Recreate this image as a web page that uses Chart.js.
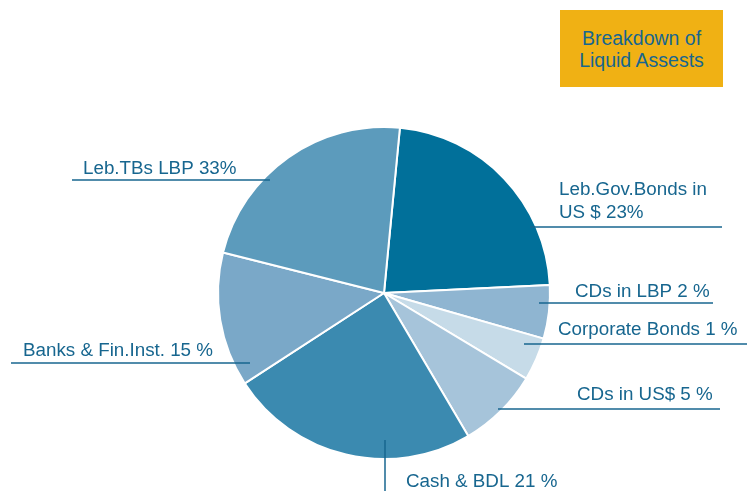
<!DOCTYPE html>
<html>
<head>
<meta charset="utf-8">
<script src="https://cdn.jsdelivr.net/npm/chart.js@4/dist/chart.umd.min.js"></script>
<style>
  html,body{margin:0;padding:0;background:#fff;}
  #wrap{position:relative;width:747px;height:491px;}
  #title{position:absolute;left:560px;top:10px;width:163px;height:77px;background:#f0b114;
    color:#17668f;font:19.5px "Liberation Sans",Arial,sans-serif;line-height:22px;
    display:flex;align-items:center;justify-content:center;text-align:center;}
</style>
</head>
<body>
<div id="wrap">
  <canvas id="c" width="747" height="491"></canvas>
  <div id="title">Breakdown of<br>Liquid Assests</div>
</div>
<script>
// slices clockwise from the top, shares
const categories=['Leb.Gov.Bonds in US $','CDs in LBP','Corporate Bonds','CDs in US$','Cash & BDL','Banks & Fin.Inst.','Leb.TBs LBP'];
const sliceShare=[22.7,5.2,4.2,7.9,24.3,13.1,22.6];
const printedPct=['23%','2 %','1 %','5 %','21 %','15 %','33%'];
const colors=['#01709a','#8fb5d1','#c6dbe8','#a6c4da','#3b8ab0','#7aa8c8','#5c9bbc'];

const INK='#17668f';
// label placement: text lines, text x, first baseline, leader line
const place=[
  {lines:['Leb.Gov.Bonds in','US $ 23%'],tx:559,ty:195,lh:23,ln:[530,227,722,227]},
  {lines:['CDs in LBP 2 %'],tx:575,ty:297,lh:0,ln:[539,303,713,303]},
  {lines:['Corporate Bonds 1 %'],tx:558,ty:335,lh:0,ln:[524,344,747,344]},
  {lines:['CDs in US$ 5 %'],tx:577,ty:400,lh:0,ln:[498,409,720,409]},
  {lines:['Cash & BDL 21 %'],tx:406,ty:487,lh:0,ln:[385,440,385,491]},
  {lines:['Banks & Fin.Inst. 15 %'],tx:23,ty:356,lh:0,ln:[11,363,250,363]},
  {lines:['Leb.TBs LBP 33%'],tx:83,ty:174,lh:0,ln:[72,180,270,180]}
];

const labelPlugin={id:'labels',afterDatasetsDraw(chart){
  const g=chart.ctx; g.save();
  g.strokeStyle=INK; g.lineWidth=1.5; g.fillStyle=INK;
  g.font='18.8px "Liberation Sans", Arial, sans-serif'; g.textBaseline='alphabetic';
  place.forEach(p=>{
    g.beginPath(); g.moveTo(p.ln[0],p.ln[1]); g.lineTo(p.ln[2],p.ln[3]); g.stroke();
    p.lines.forEach((t,i)=>g.fillText(t,p.tx,p.ty+i*p.lh));
  });
  g.restore();
}};

new Chart(document.getElementById('c'),{
  type:'pie',
  data:{labels:categories.map((c,i)=>c+' '+printedPct[i]),
    datasets:[{data:sliceShare,backgroundColor:colors,borderColor:'#fff',borderWidth:2}]},
  options:{responsive:false,animation:false,rotation:5.5,
    layout:{padding:{left:217,right:196,top:126,bottom:31}},
    plugins:{legend:{display:false},tooltip:{enabled:false}}},
  plugins:[labelPlugin]
});
</script>
</body>
</html>
